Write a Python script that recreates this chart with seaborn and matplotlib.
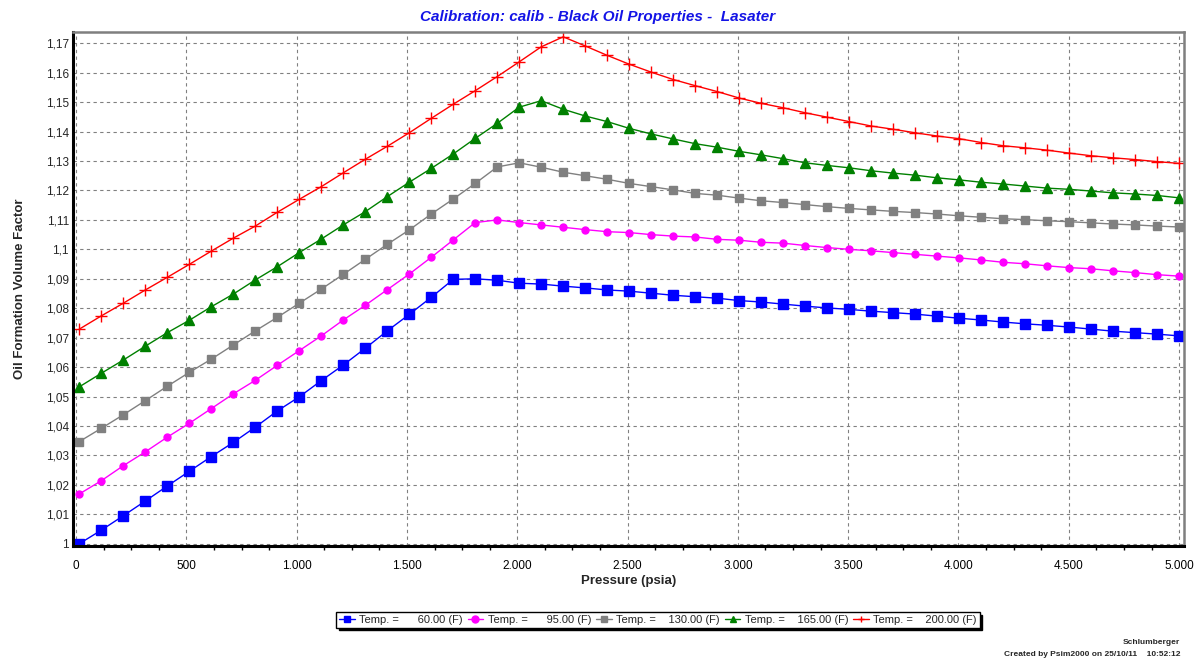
import matplotlib
matplotlib.use("Agg")
import matplotlib.pyplot as plt
from matplotlib.ticker import FixedLocator, MultipleLocator, FuncFormatter
import seaborn as sns
import pandas as pd

# ─── Data ────────────────────────────────────────────────────────────────────
pressure = [14.7, 114.4, 214.1, 313.8, 413.5, 513.2, 612.9, 712.6, 812.3, 912.1,
            1011.8, 1111.5, 1211.2, 1310.9, 1410.6, 1510.3, 1610.0, 1709.7, 1809.4, 1909.1,
            2008.8, 2108.5, 2208.2, 2307.9, 2407.6, 2507.4, 2607.1, 2706.8, 2806.5, 2906.2,
            3005.9, 3105.6, 3205.3, 3305.0, 3404.7, 3504.4, 3604.1, 3703.8, 3803.5, 3903.2,
            4002.9, 4102.6, 4202.3, 4302.0, 4401.8, 4501.5, 4601.2, 4700.9, 4800.6, 4900.3,
            5000.0]

bo_60 = [1.0000, 1.0046, 1.0095, 1.0145, 1.0196, 1.0246, 1.0296, 1.0344, 1.0396, 1.0451,
         1.0499, 1.0554, 1.0607, 1.0664, 1.0723, 1.0779, 1.0837, 1.0898, 1.0900, 1.0895,
         1.0885, 1.0882, 1.0875, 1.0869, 1.0862, 1.0858, 1.0851, 1.0844, 1.0839, 1.0834,
         1.0826, 1.0821, 1.0814, 1.0807, 1.0801, 1.0796, 1.0790, 1.0785, 1.0780, 1.0773,
         1.0766, 1.0760, 1.0753, 1.0747, 1.0742, 1.0736, 1.0729, 1.0722, 1.0717, 1.0712,
         1.0706]

bo_95 = [1.0169, 1.0214, 1.0265, 1.0312, 1.0362, 1.0409, 1.0459, 1.0509, 1.0555, 1.0606,
         1.0656, 1.0706, 1.0760, 1.0810, 1.0863, 1.0916, 1.0973, 1.1032, 1.1091, 1.1100,
         1.1091, 1.1083, 1.1075, 1.1067, 1.1060, 1.1057, 1.1050, 1.1045, 1.1042, 1.1034,
         1.1031, 1.1024, 1.1021, 1.1013, 1.1006, 1.1000, 1.0995, 1.0989, 1.0983, 1.0977,
         1.0971, 1.0964, 1.0956, 1.0951, 1.0944, 1.0938, 1.0934, 1.0927, 1.0921, 1.0914,
         1.0909]

bo_130 = [1.0347, 1.0392, 1.0438, 1.0486, 1.0535, 1.0582, 1.0627, 1.0675, 1.0723, 1.0769,
          1.0817, 1.0865, 1.0915, 1.0966, 1.1017, 1.1066, 1.1120, 1.1171, 1.1224, 1.1280,
          1.1294, 1.1279, 1.1262, 1.1250, 1.1238, 1.1224, 1.1213, 1.1202, 1.1190, 1.1184,
          1.1174, 1.1165, 1.1159, 1.1152, 1.1145, 1.1139, 1.1134, 1.1129, 1.1125, 1.1120,
          1.1114, 1.1109, 1.1104, 1.1101, 1.1097, 1.1094, 1.1090, 1.1086, 1.1083, 1.1079,
          1.1076]

bo_165 = [1.0533, 1.0579, 1.0624, 1.0671, 1.0717, 1.0759, 1.0805, 1.0848, 1.0896, 1.0941,
          1.0989, 1.1035, 1.1083, 1.1128, 1.1179, 1.1228, 1.1275, 1.1324, 1.1377, 1.1428,
          1.1483, 1.1505, 1.1476, 1.1453, 1.1434, 1.1411, 1.1392, 1.1375, 1.1359, 1.1347,
          1.1333, 1.1321, 1.1308, 1.1294, 1.1285, 1.1277, 1.1267, 1.1259, 1.1252, 1.1243,
          1.1236, 1.1228, 1.1222, 1.1215, 1.1208, 1.1204, 1.1198, 1.1192, 1.1188, 1.1183,
          1.1175]

bo_200 = [1.0729, 1.0774, 1.0817, 1.0862, 1.0905, 1.0949, 1.0994, 1.1038, 1.1079, 1.1126,
          1.1170, 1.1213, 1.1260, 1.1306, 1.1350, 1.1396, 1.1445, 1.1493, 1.1539, 1.1587,
          1.1637, 1.1688, 1.1722, 1.1691, 1.1659, 1.1629, 1.1602, 1.1577, 1.1556, 1.1536,
          1.1514, 1.1496, 1.1481, 1.1464, 1.1449, 1.1434, 1.1419, 1.1408, 1.1396, 1.1385,
          1.1376, 1.1363, 1.1352, 1.1345, 1.1337, 1.1327, 1.1318, 1.1311, 1.1305, 1.1298,
          1.1292]

labels = ["Temp. =      60.00 (F)", "Temp. =      95.00 (F)", "Temp. =    130.00 (F)",
          "Temp. =    165.00 (F)", "Temp. =    200.00 (F)"]
series = [bo_60, bo_95, bo_130, bo_165, bo_200]

x_ticks = [0, 500, 1000, 1500, 2000, 2500, 3000, 3500, 4000, 4500, 5000]
y_ticks = [1.00, 1.01, 1.02, 1.03, 1.04, 1.05, 1.06, 1.07, 1.08, 1.09,
           1.10, 1.11, 1.12, 1.13, 1.14, 1.15, 1.16, 1.17]

# ─── Styles ──────────────────────────────────────────────────────────────────
colors  = ["#0000FF", "#FF00FF", "#808080", "#008000", "#FF0000"]
markers = ["s", "o", "s", "^", "+"]
msizes  = [6.5, 5.0, 6.0, 6.5, 8.0]
TITLE_BLUE = "#1414E6"

sns.set_style("white")
plt.rcParams["font.family"] = ["Liberation Sans", "DejaVu Sans"]

fig = plt.figure(figsize=(12, 6.62), dpi=100)
ax = fig.add_axes([73 / 1200, 1 - 546 / 662, 1110.5 / 1200, 514 / 662])

for vals, lab, c, m, ms in zip(series, labels, colors, markers, msizes):
    df = pd.DataFrame({"p": pressure, "bo": vals})
    sns.lineplot(data=df, x="p", y="bo", ax=ax, color=c, marker=m,
                 markersize=ms, markeredgecolor=c, markeredgewidth=1.0,
                 linewidth=1.0, label=lab)

ax.set_xlim(-14, 5020)
ax.set_ylim(0.99922, 1.17384)

ax.xaxis.set_major_locator(FixedLocator(x_ticks))
ax.xaxis.set_minor_locator(MultipleLocator(125))
ax.yaxis.set_major_locator(FixedLocator(y_ticks))
ax.xaxis.set_major_formatter(FuncFormatter(lambda v, _: f"{v:,.0f}".replace(",", ".")))
ax.yaxis.set_major_formatter(
    FuncFormatter(lambda v, _: f"{v:.2f}".rstrip("0").rstrip(".").replace(".", ",")))

ax.grid(True, which="major", color="#808080", linestyle=(0, (3, 3)), linewidth=0.8)
ax.tick_params(axis="x", which="major", direction="out", length=4, width=1,
               labelsize=8.5, colors="black", pad=6)
ax.tick_params(axis="x", which="minor", direction="out", length=3, width=1,
               colors="black", bottom=True)
ax.tick_params(axis="y", which="major", length=0, labelsize=8.5, pad=3)

for side in ["left", "bottom"]:
    ax.spines[side].set_color("black")
    ax.spines[side].set_linewidth(2.2)
for side in ["top", "right"]:
    ax.spines[side].set_color("#7F7F7F")
    ax.spines[side].set_linewidth(1.8)

ax.set_xlabel("Pressure (psia)", fontsize=9.5, fontweight="bold", labelpad=2)
ax.set_ylabel("Oil Formation Volume Factor", fontsize=9.5, fontweight="bold", labelpad=14)

fig.text(0.498, 1 - 17 / 662, "Calibration: calib - Black Oil Properties -  Lasater",
         ha="center", va="center", fontsize=11, fontweight="bold", style="italic",
         color=TITLE_BLUE)

leg = ax.legend(loc="upper center", bbox_to_anchor=(658 / 1200, 1 - 612 / 662),
                bbox_transform=fig.transFigure, ncol=5, fontsize=8, frameon=True,
                fancybox=False, shadow={"color": "black", "alpha": 1},
                edgecolor="black", handlelength=1.4, handletextpad=0.4,
                columnspacing=0.45, borderpad=0.25, borderaxespad=0)
leg.get_frame().set_linewidth(1.0)
for h in leg.legend_handles:
    h.set_markersize(5)

footer_font = ["Liberation Sans Narrow", "Liberation Sans", "DejaVu Sans"]
fig.text(1180 / 1200, 1 - 643 / 662, "Schlumberger", ha="right", va="center",
         fontsize=6, fontweight="bold", family=footer_font)
fig.text(1180 / 1200, 1 - 655 / 662, "Created by Psim2000 on 25/10/11    10:52:12",
         ha="right", va="center", fontsize=6, fontweight="bold", family=footer_font)

plt.savefig("out.png", dpi=100)
plt.close()
